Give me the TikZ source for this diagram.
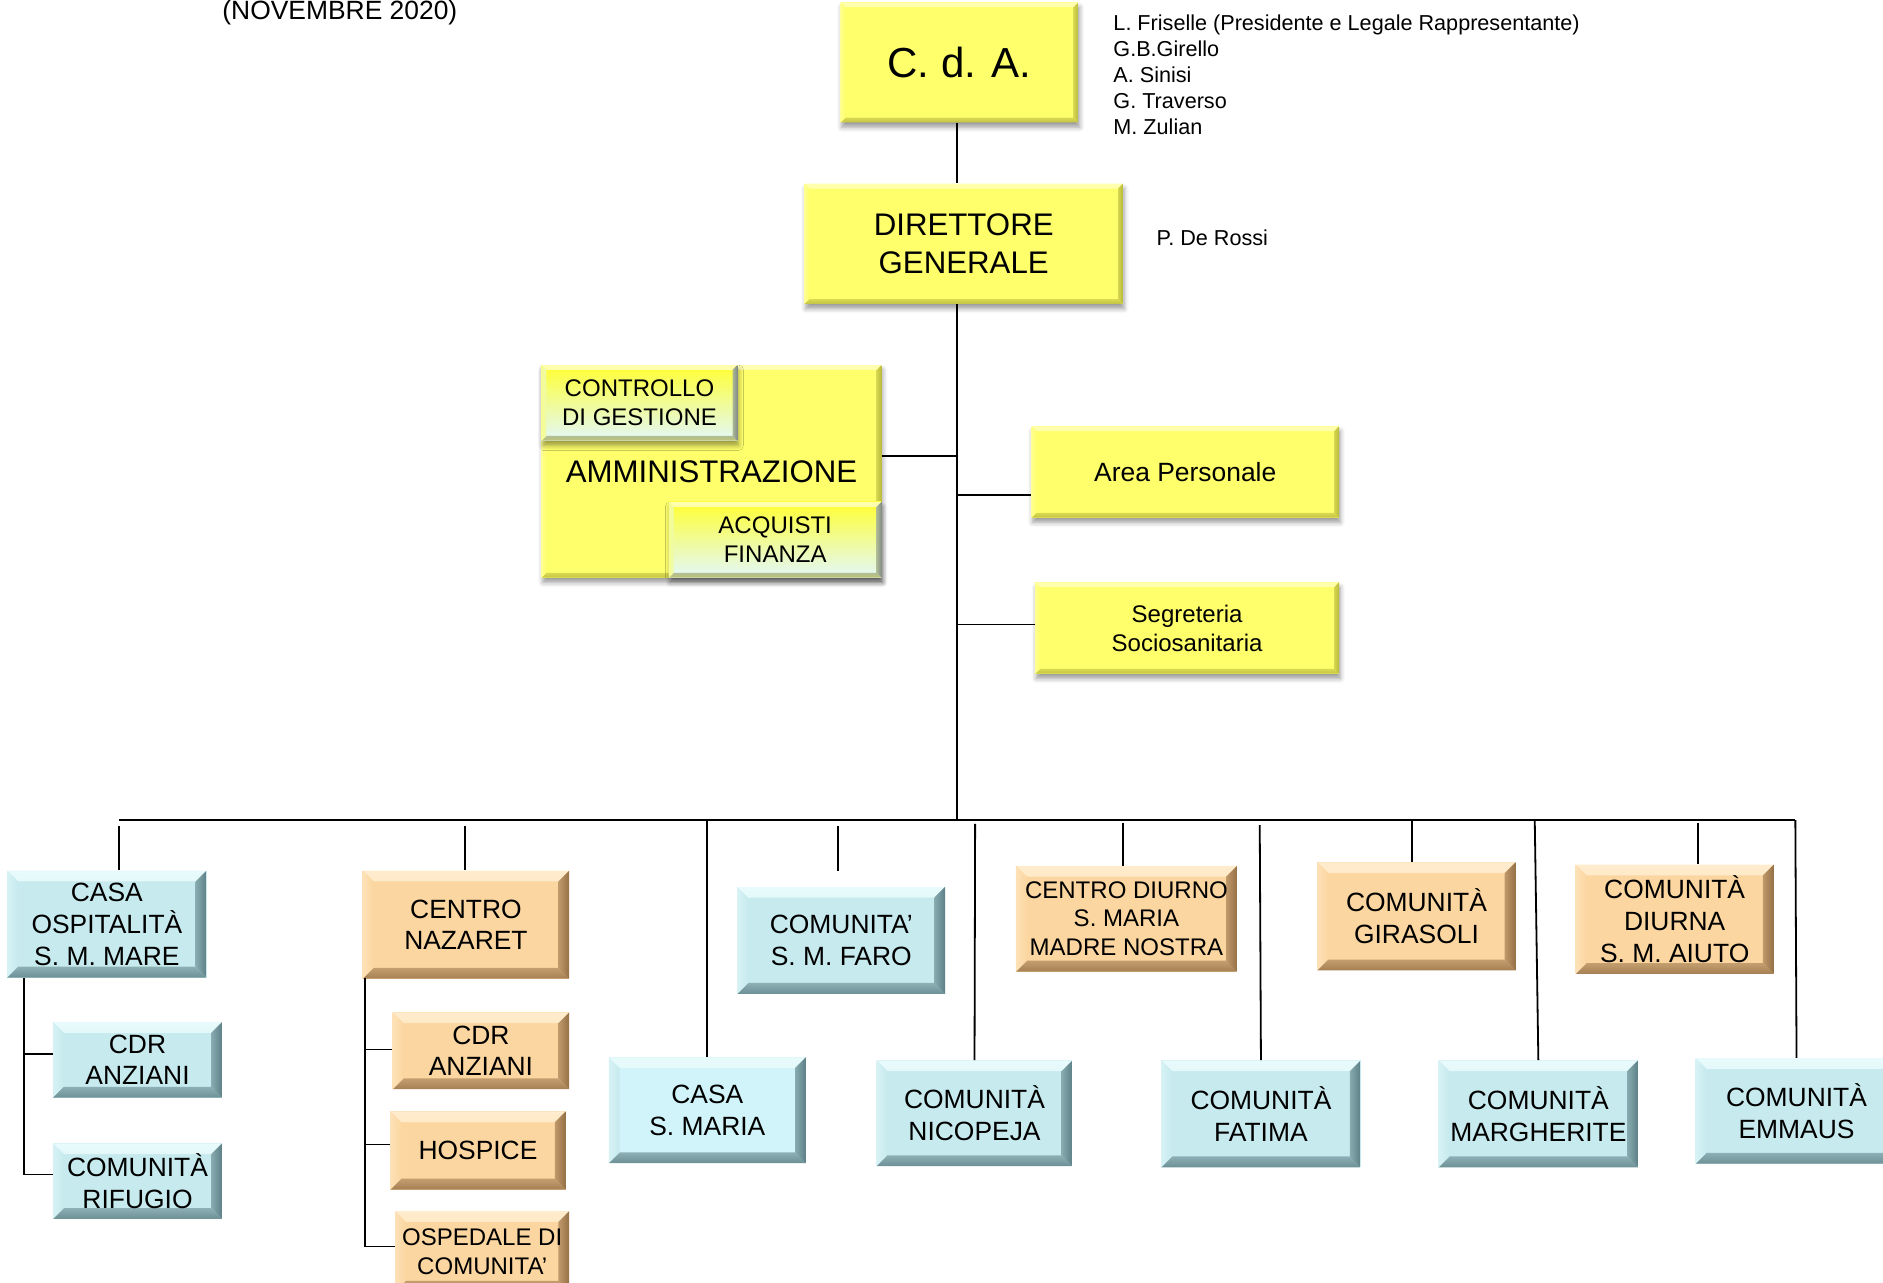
\documentclass[tikz,border=0pt]{standalone}
\usepackage{fontspec}
\setmainfont{Liberation Sans}
\usetikzlibrary{shadows,shadows.blur}
\definecolor{cyF}{RGB}{198,234,238}
\definecolor{cyT}{RGB}{232,250,252}
\definecolor{cyD}{RGB}{92,128,133}
\definecolor{orF}{RGB}{251,214,160}
\definecolor{orT}{RGB}{255,236,205}
\definecolor{orD}{RGB}{150,112,70}
\definecolor{yeF}{RGB}{255,255,108}
\definecolor{yeT}{RGB}{255,255,175}
\definecolor{yeD}{RGB}{185,185,60}
\definecolor{grTop}{RGB}{255,255,50}
\definecolor{grBot}{RGB}{226,248,250}
\definecolor{grD}{RGB}{130,140,135}
\newcommand\bevelbox[4]{%
\shade[top color=#1, bottom color=#3] (path picture bounding box.north west) -- (path picture bounding box.north east) -- ([xshift=-#4pt,yshift=-#4pt]path picture bounding box.north east) -- ([xshift=#4pt,yshift=-#4pt]path picture bounding box.north west) -- cycle;
\shade[top color=#3!45!#2, bottom color=#2!85!#3] (path picture bounding box.south west) -- (path picture bounding box.south east) -- ([xshift=-#4pt,yshift=#4pt]path picture bounding box.south east) -- ([xshift=#4pt,yshift=#4pt]path picture bounding box.south west) -- cycle;
\shade[left color=#1!50!#3, right color=#3] (path picture bounding box.north west) -- (path picture bounding box.south west) -- ([xshift=#4pt,yshift=#4pt]path picture bounding box.south west) -- ([xshift=#4pt,yshift=-#4pt]path picture bounding box.north west) -- cycle;
\shade[left color=#3!40!#2, right color=#2] (path picture bounding box.north east) -- (path picture bounding box.south east) -- ([xshift=-#4pt,yshift=#4pt]path picture bounding box.south east) -- ([xshift=-#4pt,yshift=-#4pt]path picture bounding box.north east) -- cycle;
}
\tikzset{
  box/.style={rectangle, inner sep=0pt, align=center, text=black},
  cybox/.style={box, fill=cyF, path picture={\bevelbox{cyT}{cyD}{cyF}{9}}},
  orbox/.style={box, fill=orF, path picture={\bevelbox{orT}{orD}{orF}{9}}},
  yshadow/.style={blur shadow={shadow xshift=1pt, shadow yshift=-4pt, shadow blur radius=4pt, shadow opacity=40}},
  yebox/.style={box, fill=yeF, yshadow, path picture={\bevelbox{yeT}{yeD}{yeF}{4}}},
  grbox/.style={box, top color=grTop, bottom color=grBot, yshadow,
                path picture={\bevelbox{grTop!40!white}{grD}{grBot!60!grTop}{4}}},
  bigf/.style={font=\fontsize{22}{26.5}\selectfont},
  smf/.style={font=\fontsize{20}{24}\selectfont},
  wire/.style={line width=1.5pt, black},
}
\begin{document}
\begin{tikzpicture}[x=1pt,y=-1pt]
\useasboundingbox (0,0) rectangle (1568,1068);

% title and annotations
\node[anchor=base, font=\fontsize{22}{26}\selectfont] (title) at (283,16) {(NOVEMBRE 2020)};
\node[anchor=north west, inner sep=0pt, align=left, font=\fontsize{18}{21.5}\selectfont] (members) at (927,12.4)
  {L. Friselle (Presidente e Legale Rappresentante)\\G.B.Girello\\A. Sinisi\\G. Traverso\\M. Zulian};
\node[anchor=west, inner sep=0pt, font=\fontsize{18}{21.5}\selectfont] (dgname) at (963,198) {P. De Rossi};

% top hierarchy
\node[yebox, minimum width=198, minimum height=100, font=\fontsize{35}{40}\selectfont] (cda) at (799,52) {C. d. A.};
\node[yebox, minimum width=265, minimum height=100, font=\fontsize{26}{32}\selectfont] (dg) at (802.5,203) {DIRETTORE\\GENERALE};
\node[yebox, minimum width=283, minimum height=177, font=\fontsize{26}{32}\selectfont] (adm) at (592.5,392.5) {AMMINISTRAZIONE};
\node[grbox, minimum width=163, minimum height=63, smf] (ctrl) at (532.5,335.5) {CONTROLLO\\DI GESTIONE};
\node[grbox, minimum width=177, minimum height=63, smf] (acq) at (645.5,449.5) {ACQUISTI\\FINANZA};
\node[yebox, minimum width=256, minimum height=76, bigf] (ap) at (987,393) {Area Personale};
\node[yebox, minimum width=253, minimum height=76, smf] (seg) at (988.5,523) {Segreteria\\Sociosanitaria};

% bottom nodes
\node[cybox, minimum width=166, minimum height=89, bigf] (casa) at (89,769.5) {CASA\\OSPITALITÀ\\S. M. MARE};
\node[cybox, minimum width=141, minimum height=63, bigf] (cdr1) at (114.5,882.5) {CDR\\ANZIANI};
\node[cybox, minimum width=141, minimum height=63, bigf] (rif) at (114.5,983.5) {COMUNITÀ\\RIFUGIO};
\node[orbox, minimum width=172, minimum height=90, bigf] (naz) at (388,770) {CENTRO\\NAZARET};
\node[orbox, minimum width=147, minimum height=64, bigf] (cdr2) at (400.5,875) {CDR\\ANZIANI};
\node[orbox, minimum width=146, minimum height=65, bigf] (hosp) at (398,958) {HOSPICE};
\node[orbox, minimum width=145, minimum height=67, smf] (osp) at (401.5,1042) {OSPEDALE DI\\COMUNITA’};
\node[cybox, fill={rgb,255:red,208;green,244;blue,249}, minimum width=164, minimum height=88, bigf] (smaria) at (589,924.5) {CASA\\S. MARIA};
\node[cybox, minimum width=173, minimum height=89, bigf] (faro) at (700.5,783) {COMUNITA’\\S. M. FARO};
\node[cybox, minimum width=163, minimum height=88, bigf] (nico) at (811.5,927) {COMUNITÀ\\NICOPEJA};
\node[orbox, minimum width=184, minimum height=88, smf] (cdiurno) at (938,765) {CENTRO DIURNO\\S. MARIA\\MADRE NOSTRA};
\node[cybox, minimum width=166, minimum height=89, bigf] (fatima) at (1050,927.5) {COMUNITÀ\\FATIMA};
\node[orbox, minimum width=165, minimum height=90, bigf] (gira) at (1179.5,763) {COMUNITÀ\\GIRASOLI};
\node[cybox, minimum width=166, minimum height=89, bigf] (marg) at (1281,927.5) {COMUNITÀ\\MARGHERITE};
\node[orbox, minimum width=165, minimum height=91, bigf] (aiuto) at (1394.5,765.5) {COMUNITÀ\\DIURNA\\S. M. AIUTO};
\node[cybox, minimum width=168, minimum height=88, bigf] (emmaus) at (1496,925) {COMUNITÀ\\EMMAUS};

% junction coordinates
\coordinate (trunk) at (797,683);
\coordinate (admj) at (797,380);
\coordinate (apj) at (797,412);
\coordinate (segj) at (797,520);
\coordinate (busL) at (99,683);
\coordinate (busR) at (1495,683);

% top connectors
\draw[wire] (cda.south -| trunk) -- (dg.north -| trunk);
\draw[wire] (dg.south -| trunk) -- (trunk);
\draw[wire] (adm.east |- admj) -- (admj);
\draw[wire] (apj) -- (ap.west |- apj);
\draw[wire] (segj) -- (seg.west |- segj);
\draw[wire] (busL) -- (busR);

% drops to bottom nodes
\coordinate (d1) at (99,688);
\coordinate (d2) at (387,688);
\coordinate (d4) at (698,688);
\coordinate (d4e) at (698,725);
\coordinate (d5) at (812,686);
\coordinate (d6) at (935,685);
\coordinate (d7) at (1049,687);
\coordinate (d8) at (1176,683);
\coordinate (d9) at (1278,683);
\coordinate (d10) at (1414,685);
\draw[wire] (d1) -- (d1 |- casa.north);
\draw[wire] (d2) -- (d2 |- naz.north);
\draw[wire] (smaria.north |- busL) -- (smaria.north);
\draw[wire] (d4) -- (d4e);
\draw[wire] (d5) -- (nico.north);
\draw[wire] (d6) -- (d6 |- cdiurno.north);
\draw[wire] (d7) -- (fatima.north);
\draw[wire] (d8) -- (d8 |- gira.north);
\draw[wire] (d9) -- (marg.north);
\draw[wire] (d10) -- (d10 |- aiuto.north);
\draw[wire] (busR) -- (emmaus.north);

% side branches
\coordinate (cv) at (20,814);
\coordinate (cv1) at (20,878);
\coordinate (cv2) at (20,978);
\draw[wire] (cv) -- (cv2) -- (rif.west |- cv2);
\draw[wire] (cv1) -- (cdr1.west |- cv1);
\coordinate (nv) at (304,814);
\coordinate (nv1) at (304,874);
\coordinate (nv2) at (304,953);
\coordinate (nv3) at (304,1038);
\draw[wire] (nv) -- (nv3) -- (osp.west |- nv3);
\draw[wire] (nv1) -- (cdr2.west |- nv1);
\draw[wire] (nv2) -- (hosp.west |- nv2);
\end{tikzpicture}
\end{document}
